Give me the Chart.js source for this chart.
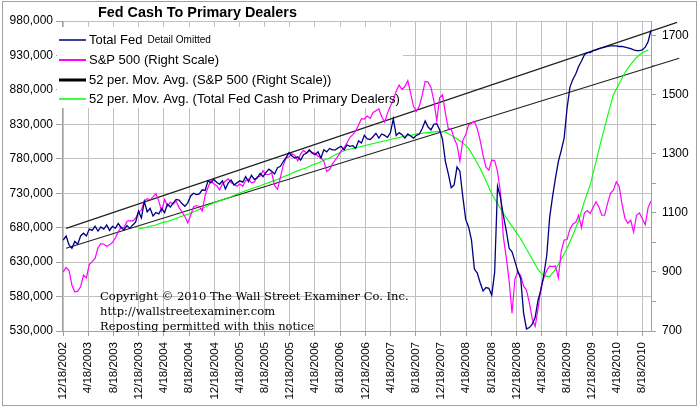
<!DOCTYPE html>
<html>
<head>
<meta charset="utf-8">
<title>Fed Cash To Primary Dealers</title>
<style>
  html, body { margin: 0; padding: 0; background: #fff; }
  #wrap { width: 699px; height: 409px; }
</style>
<script src="https://cdn.jsdelivr.net/npm/chart.js@4.4.1/dist/chart.umd.min.js"></script>
</head>
<body>
<div id="wrap"><canvas id="chart" width="699" height="409"></canvas></div>
<script>
// x axis labels (dates, every 4 months)
const tickLabels = [
  '12/18/2002', '4/18/2003', '8/18/2003', '12/18/2003', '4/18/2004', '8/18/2004',
  '12/18/2004', '4/18/2005', '8/18/2005', '12/18/2005', '4/18/2006', '8/18/2006',
  '12/18/2006', '4/18/2007', '8/18/2007', '12/18/2007', '4/18/2008', '8/18/2008',
  '12/18/2008', '4/18/2009', '8/18/2009', '12/18/2009', '4/18/2010', '8/18/2010'
]

// Total Fed cash to primary dealers, thousands of $, every 2 weeks from 12/18/2002
const seriesStart = '12/18/2002'
const seriesStep = 14
const fedTotal = [
  662, 668, 655, 650, 660, 656, 668, 672, 668, 678,
  676, 682, 675, 681, 678, 684, 676, 682, 679, 686,
  680, 677, 683, 679, 684, 688, 704, 694, 718, 703,
  708, 697, 702, 700, 708, 702, 714, 710, 716, 721,
  720, 715, 711, 716, 726, 730, 728, 729, 735, 734,
  748, 745, 750, 746, 743, 748, 736, 745, 749, 742,
  745, 748, 746, 754, 747, 756, 750, 752, 759, 754,
  760, 765, 762, 758, 767, 769, 776, 782, 789, 784,
  781, 783, 778, 786, 788, 793, 788, 786, 790, 781,
  793, 790, 795, 793, 793, 796, 798, 793, 800, 798,
  799, 795, 806, 803, 814, 809, 808, 812, 817, 810,
  816, 814, 811, 818, 838, 814, 818, 815, 810, 816,
  813, 810, 814, 816, 824, 835, 826, 822, 830, 831,
  822, 808, 776, 758, 738, 742, 768, 762, 725, 692,
  681, 662, 620, 614, 600, 588, 593, 592, 582, 615,
  740, 724, 698, 676, 650, 645, 631, 617, 606, 556,
  533, 535, 540, 550, 575, 590, 612, 640, 695, 725,
  752, 776, 792, 810, 853, 884, 895, 903, 914, 922,
  931, 934, 934, 937, 938, 940, 941, 942, 943, 944,
  944, 944, 943, 943, 942, 941, 940, 938, 937, 937,
  938, 942, 950, 967
]

// S&P 500, same dates (right scale)
const spx = [
  900, 915, 905, 855, 832, 835, 850, 889, 880, 925,
  936, 946, 982, 996, 994, 987, 992, 1000, 1015, 1036,
  1052, 1050, 1072, 1074, 1072, 1082, 1102, 1110, 1140, 1148,
  1144, 1154, 1165, 1140, 1106, 1145, 1124, 1136, 1130, 1140,
  1118, 1104, 1088, 1066, 1092, 1120, 1125, 1122, 1106, 1160,
  1186, 1210, 1198, 1192, 1178, 1198, 1208, 1215, 1202, 1196,
  1190, 1198, 1190, 1210, 1215, 1202, 1205, 1222, 1224, 1243,
  1230, 1230, 1236, 1192, 1180, 1220, 1262, 1286, 1290, 1300,
  1295, 1276, 1300, 1312, 1303, 1310, 1305, 1302, 1292, 1287,
  1276, 1240, 1247, 1266, 1280, 1294, 1310, 1321, 1337, 1356,
  1365, 1378, 1398, 1419, 1418, 1428, 1420, 1440, 1446, 1452,
  1426, 1407, 1438, 1462, 1482, 1512, 1533, 1518, 1528, 1548,
  1505, 1460, 1445, 1462, 1500, 1545, 1543, 1525, 1480, 1412,
  1490, 1500, 1437, 1385, 1385, 1352, 1330, 1275, 1345, 1365,
  1398, 1404, 1410, 1385, 1346, 1295, 1255, 1245, 1279, 1277,
  1240, 1170, 1019, 950, 870, 760, 876, 900, 888, 852,
  838, 795, 740, 716, 775, 848, 880, 906, 920, 918,
  920, 880, 970, 1008, 1010, 1045, 1062, 1068, 1092, 1050,
  1100, 1108, 1098, 1118, 1138, 1120, 1092, 1092, 1132, 1166,
  1177, 1205, 1190, 1130, 1082, 1065, 1075, 1035, 1092, 1100,
  1080, 1060, 1118, 1140
]

// 52 week moving average of Total Fed, thousands, every 4 weeks
const movAvgStart = '12/17/2003'
const movAvgStep = 28
const fedMovAvg = [
  678, 680, 682, 684, 687, 689, 692, 695, 698, 701,
  705, 708, 712, 716, 719, 722, 725, 729, 732, 735,
  738, 741, 744, 747, 750, 754, 757, 761, 764, 767,
  771, 774, 778, 781, 786, 790, 793, 795, 797, 799,
  801, 803, 805, 807, 809, 811, 813, 814, 816, 817,
  818, 819, 820, 819, 814, 809, 803, 795, 781, 766,
  748, 729, 715, 701, 688, 676, 664, 649, 634, 619,
  610, 609, 619, 634, 650, 669, 690, 718, 742, 776,
  810, 842, 873, 889, 905, 917, 927, 934, 938
]

// trend channel (left scale, thousands)
const channelTopDates = ['1/1/2003', '2/2/2011']
const channelTop = [679, 978]
const channelBottomDates = ['1/1/2003', '2/12/2011']
const channelBottom = [650, 926]

const FONT = 'Liberation Sans, Arial, sans-serif'

function dayOf(s) {
  var p = s.split('/').map(Number)
  return Math.round((Date.UTC(p[2], p[0] - 1, p[1]) - Date.UTC(2002, 11, 18)) / 86400000)
}

function stepPoints(start, step, values) {
  var d0 = dayOf(start)
  return values.map(function (v, i) { return { x: d0 + i * step, y: v } })
}

function datePoints(dates, values) {
  return values.map(function (v, i) { return { x: dayOf(dates[i]), y: v } })
}

var labelByDay = {}
tickLabels.forEach(function (t) { labelByDay[dayOf(t)] = t })

// title, legend, copyright note and frame
const decor = {
  id: 'decor',
  beforeDraw(chart) {
    var ctx = chart.ctx
    ctx.save()
    ctx.fillStyle = '#fff'
    ctx.fillRect(0, 0, chart.width, chart.height)
    ctx.restore()
  },
  beforeDatasetsDraw(chart) {
    var ctx = chart.ctx
    ctx.save()
    ctx.fillStyle = '#fff'
    ctx.fillRect(57, 27, 346, 81)
    ctx.restore()
  },
  afterDatasetsDraw(chart) {
    var ctx = chart.ctx
    var rows = [40, 60, 80, 99]
    var widths = [1.5, 2, 3, 1.5]
    ctx.save()
    ctx.textBaseline = 'middle'
    ctx.fillStyle = '#000'
    chart.data.datasets.slice(0, 4).forEach(function (ds, i) {
      ctx.strokeStyle = ds.borderColor
      ctx.lineWidth = widths[i]
      ctx.beginPath()
      ctx.moveTo(59, rows[i])
      ctx.lineTo(86, rows[i])
      ctx.stroke()
      ctx.font = '13px ' + FONT
      ctx.fillText(ds.label, 89, rows[i])
      if (i === 0) {
        var w = ctx.measureText(ds.label).width
        ctx.font = '10px ' + FONT
        ctx.fillText('Detail Omitted', 89 + w + 5, rows[i])
      }
    })
    ctx.restore()
  },
  afterDraw(chart) {
    var ctx = chart.ctx
    ctx.save()
    ctx.fillStyle = '#000'
    ctx.textBaseline = 'middle'
    ctx.font = 'bold 14.4px ' + FONT
    ctx.fillText('Fed Cash To Primary Dealers', 98, 13)

    ctx.textBaseline = 'alphabetic'
    ctx.font = '11.5px DejaVu Serif, Georgia, serif'
    ctx.fillText('Copyright \u00a9 2010 The Wall Street Examiner Co. Inc.', 100, 300)
    ctx.fillText('http://wallstreetexaminer.com', 100, 315)
    ctx.fillText('Reposting permitted with this notice', 100, 330)

    ctx.strokeStyle = '#a0a0a0'
    ctx.lineWidth = 1
    ctx.strokeRect(2.5, 1.5, 694, 404)
    ctx.restore()
  }
}

Chart.defaults.font.family = FONT
Chart.defaults.color = '#000'

new Chart(document.getElementById('chart'), {
  type: 'line',
  data: {
    datasets: [
      { label: 'Total Fed', data: stepPoints(seriesStart, seriesStep, fedTotal),
        borderColor: '#000080', borderWidth: 1.3, yAxisID: 'y' },
      { label: 'S&P 500 (Right Scale)', data: stepPoints(seriesStart, seriesStep, spx),
        borderColor: '#ff00ff', borderWidth: 1.2, yAxisID: 'y1' },
      { label: '52 per. Mov. Avg. (S&P 500 (Right Scale))', data: [],
        borderColor: '#000000', borderWidth: 3, yAxisID: 'y1' },
      { label: '52 per. Mov. Avg. (Total Fed Cash to Primary Dealers)',
        data: stepPoints(movAvgStart, movAvgStep, fedMovAvg),
        borderColor: '#00ff00', yAxisID: 'y' },
      { label: 'channel top', data: datePoints(channelTopDates, channelTop),
        borderColor: '#202020', yAxisID: 'y', clip: false },
      { label: 'channel bottom', data: datePoints(channelBottomDates, channelBottom),
        borderColor: '#202020', yAxisID: 'y', clip: false }
    ]
  },
  options: {
    responsive: false,
    animation: false,
    events: [],
    layout: { padding: { top: 21, left: 0, right: 0, bottom: 0 } },
    elements: {
      point: { radius: 0 },
      line: { borderWidth: 1.1, tension: 0, fill: false }
    },
    plugins: {
      legend: { display: false },
      tooltip: { enabled: false }
    },
    scales: {
      x: {
        type: 'linear',
        min: -6,
        max: 2842,
        afterBuildTicks: function (scale) {
          scale.ticks = tickLabels.map(function (t) { return { value: dayOf(t) } })
        },
        afterFit: function (scale) { scale.height = 78 },
        ticks: {
          autoSkip: false,
          minRotation: 90,
          maxRotation: 90,
          padding: 6,
          font: { size: 11.5 },
          callback: function (v) { return labelByDay[v] || '' }
        },
        grid: { color: '#c0c0c0', tickLength: 5, tickColor: '#a0a0a0' },
        border: { color: '#a0a0a0' }
      },
      y: {
        position: 'left',
        min: 530,
        max: 980,
        afterFit: function (scale) { scale.width = 62 },
        ticks: {
          stepSize: 50,
          padding: 3,
          font: { size: 12 },
          callback: function (v) { return v + ',000' }
        },
        grid: { color: '#c0c0c0', tickLength: 6, tickColor: '#a0a0a0' },
        border: { color: '#a0a0a0' }
      },
      y1: {
        position: 'right',
        min: 700,
        max: 1750,
        afterFit: function (scale) { scale.width = 48 },
        ticks: {
          stepSize: 50,
          padding: 6,
          font: { size: 12 },
          callback: function (v) { return (v - 700) % 200 === 0 ? String(v) : '' }
        },
        grid: { drawOnChartArea: false, tickLength: 5, color: '#a0a0a0' },
        border: { color: '#a0a0a0' }
      }
    }
  },
  plugins: [decor]
})
</script>
</body>
</html>
